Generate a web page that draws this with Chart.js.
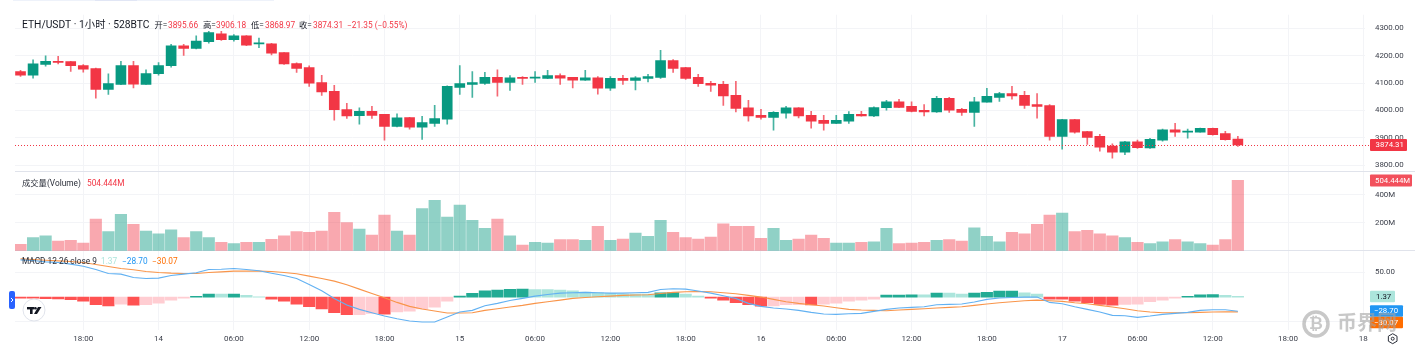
<!DOCTYPE html>
<html><head><meta charset="utf-8">
<style>html,body{margin:0;padding:0;background:#fff;overflow:hidden}canvas{display:block}</style>
<script src="https://cdn.jsdelivr.net/npm/chart.js@4/dist/chart.umd.js"></script>
</head><body>
<canvas id="c" width="1415" height="353"></canvas>
<script>
const openP=[4142,4129,4168,4179,4178,4164,4153,4077,4095,4164,
4095,4134,4163,4236,4226,4251,4279,4258,4272,4243,
4243,4211,4171,4156,4102,4070,4003,3981,3997,3986,
3942,3974,3939,3953,3968,4084,4095,4099,4121,4102,
4121,4118,4117,4127,4121,4111,4119,4081,4117,4110,
4117,4121,4182,4156,4121,4099,4095,4055,4010,3982,
3975,3990,4010,3982,3964,3953,3961,3986,3980,4010,
4032,4015,4001,3995,4044,4004,3993,4030,4048,4062,
4055,4022,4018,3906,3967,3923,3906,3870,3848,3886,
3864,3892,3930,3921,3921,3935,3916,3895.66];
const highP=[4146,4185,4199,4197,4179,4167,4155,4134,4179,4179,
4148,4175,4241,4241,4272,4289,4289,4277,4273,4264,
4245,4211,4174,4163,4128,4092,4026,4010,4015,3986,
3988,3975,3979,4019,4090,4164,4142,4139,4148,4127,
4124,4142,4146,4134,4121,4146,4124,4124,4128,4124,
4132,4219,4186,4157,4132,4106,4106,4106,4037,4004,
3996,4015,4011,3997,3982,3982,3996,3997,4013,4037,
4041,4032,4022,4052,4048,4008,4048,4081,4066,4088,
4070,4062,4022,3968,3968,3924,3913,3879,3888,3892,
3899,3932,3953,3932,3936,3936,3924,3906.18];
const lowP=[4124,4118,4162,4170,4142,4140,4045,4059,4094,4082,
4095,4129,4158,4201,4224,4245,4255,4253,4236,4229,
4203,4168,4139,4088,4055,3965,3971,3950,3971,3892,
3940,3932,3895,3942,3950,4059,4048,4095,4052,4073,
4095,4102,4116,4095,4082,4110,4060,4073,4095,4075,
4104,4117,4139,4113,4088,4070,4019,3995,3961,3968,
3928,3972,3973,3936,3928,3952,3953,3979,3978,4001,
4010,3995,3980,3993,3993,3982,3942,4030,4033,4041,
4008,3972,3892,3859,3917,3876,3852,3826,3839,3862,
3862,3888,3906,3899,3921,3910,3892,3868.97];
const closeP=[4129,4170,4179,4175,4163,4151,4077,4098,4164,4096,
4135,4164,4236,4226,4253,4284,4258,4272,4238,4245,
4209,4170,4153,4100,4068,4003,3980,3997,3982,3942,
3973,3939,3956,3971,4088,4098,4102,4121,4102,4119,
4117,4121,4127,4118,4111,4119,4081,4117,4110,4119,
4124,4182,4153,4117,4098,4092,4053,4008,3980,3975,
3993,4010,3980,3961,3953,3964,3986,3980,4011,4032,
4011,3997,3995,4044,4001,3993,4032,4052,4062,4053,
4019,4015,3906,3967,3921,3902,3866,3848,3886,3865,
3895,3930,3921,3924,3935,3912,3894,3874.31];
const volumeM=[45,93,107,69,74,55,226,136,260,188,
140,121,150,93,136,93,60,50,60,60,
81,107,136,131,140,274,202,155,112,255,
140,112,302,360,240,326,217,160,226,107,
40,60,55,79,79,74,174,74,83,126,
102,217,131,93,83,98,193,174,174,88,
160,74,83,112,88,55,55,60,64,160,
50,55,60,74,79,69,164,102,64,131,
121,188,255,269,136,145,121,107,93,60,
50,64,79,64,50,40,79,504.444];
const macdHist=[-2.0,-2.1,-3.4,-3.5,-5.4,-8.1,-15.5,-18.2,-14.2,-16.2,
-15.5,-12.2,-6.1,-2.0,1.4,6.3,5.9,6.2,3.4,0.7,
-4.1,-8.1,-14.2,-19.6,-24.3,-31.8,-35.8,-35.7,-33.1,-34.5,
-30.4,-28.4,-24.3,-20.3,-8.1,2.0,7.4,12.8,14.2,16.0,
16.2,15.5,15.4,14.2,12.8,10.1,8.8,7.4,6.2,6.1,
6.0,8.8,9.0,6.1,2.0,-2.0,-6.1,-11.5,-15.5,-18.3,
-18.2,-15.6,-15.5,-16.0,-14.2,-12.2,-8.1,-6.1,-4.1,4.0,
4.3,4.7,4.5,8.1,8.0,6.1,8.1,9.5,12.2,12.4,
8.8,6.1,-4.1,-4.3,-8.1,-11.5,-14.9,-16.2,-14.9,-14.2,
-9.5,-6.1,-2.0,1.4,4.7,4.9,3.4,1.37];
const macdLine=[75.7,74.3,71.6,70.3,66.9,62.8,56.0,48.0,46.6,39.9,
37.8,38.5,43.9,46.6,49.3,56.0,56.7,58.1,56.0,53.4,
48.6,43.9,37.8,25.7,12.8,-2.7,-16.2,-25.0,-31.8,-38.5,
-43.9,-48.6,-50.7,-50.7,-40.5,-30.4,-27.0,-17.6,-12.8,-6.8,
-2.7,2.0,5.4,8.1,8.8,9.5,8.8,8.1,8.1,8.8,
9.5,15.5,16.9,16.2,12.2,8.1,2.7,-2.7,-12.8,-18.9,
-22.3,-24.3,-27.0,-31.1,-34.5,-35.1,-33.8,-33.1,-29.1,-25.0,
-22.3,-20.9,-19.6,-15.5,-14.9,-14.2,-10.1,-4.7,-2.0,-0.7,
0,0,-10.8,-13.5,-19.6,-25.0,-30.4,-37.2,-37.8,-41.2,
-38.5,-35.1,-33.1,-31.1,-27.0,-25.7,-25.7,-28.70];
const signalLine=[77.7,76.4,75.0,73.6,72.3,70.3,66.2,62.1,58.1,55.4,
52.0,50.0,48.6,48.0,47.9,50.0,51.3,52.7,52.7,52.7,
52.0,50.0,47.3,42.6,37.8,32.4,25.0,16.2,7.4,-1.4,
-10.8,-18.9,-24.3,-28.4,-32.4,-32.4,-31.8,-27.0,-23.6,-20.3,
-16.9,-12.8,-9.5,-6.1,-2.7,-0.7,0.7,2.0,3.4,4.1,
4.7,7.4,9.5,10.8,11.5,10.8,8.8,6.8,3.4,0,
-4.7,-9.5,-12.8,-15.5,-18.2,-21.6,-25.0,-26.4,-27.0,-27.7,
-26.4,-25.0,-23.6,-22.3,-20.9,-19.6,-16.9,-14.2,-11.5,-9.5,
-7.4,-6.1,-7.4,-8.8,-11.5,-13.5,-16.9,-20.3,-23.6,-27.7,
-30.4,-31.8,-31.8,-31.8,-31.1,-30.4,-29.7,-30.07];

const xTickHours=[5,11,17,23,29,35,41,47,53,59,65,71,77,83,89,95,101,107];
const xTickLabels=['18:00','14','06:00','12:00','18:00','15','06:00','12:00','18:00','16','06:00','12:00','18:00','17','06:00','12:00','18:00','18'];
const priceTicks=[4300,4200,4100,4000,3900,3800];
const volumeTicks=[200,400];
const macdTicks=[50,-50];

const GREEN='#089981',RED='#F23645';
const FONT="Roboto, 'Noto Sans CJK SC', sans-serif";
const isUp=i=>closeP[i]>=openP[i];
const idx=closeP.map((_,i)=>i);

const panelPlugin={
 id:'panels',
 beforeDatasetsDraw(ch){
  const c=ch.ctx;c.save();
  c.strokeStyle='#E0E3EB';c.lineWidth=1;
  [171.5,250.5].forEach(y=>{c.beginPath();c.moveTo(15,y);c.lineTo(1415,y);c.stroke();});
  c.fillStyle='#EEF2FA';c.fillRect(13,0,261,1);
  c.fillStyle='#E1E6F5';c.fillRect(95,0,42,1);
  c.restore();
 },
 afterDraw(ch){
  const c=ch.ctx,s=ch.scales;c.save();
  c.textBaseline='middle';
  const last=closeP.length-1;
  const py=s.y.getPixelForValue(closeP[last]);
  c.strokeStyle=RED;c.lineWidth=1;c.setLineDash([1,2]);
  c.beginPath();c.moveTo(15,Math.round(py)+.5);c.lineTo(1370,Math.round(py)+.5);c.stroke();c.setLineDash([]);
  const tag=(x,yc,w,h,bg,fg,txt,tx)=>{c.fillStyle=bg;c.beginPath();c.roundRect(x,yc-h/2,w,h,1);c.fill();
    c.fillStyle=fg;c.font='7.8px '+FONT;c.textAlign='left';c.fillText(txt,tx,yc+.5);};
  tag(1370,py,37,12,RED,'#fff',closeP[last].toFixed(2),1375.5);
  tag(1370,180.5,42,12,'#F2505C','#fff',volumeM[last].toFixed(3)+'M',1375);
  tag(1370,296.5,25,11.5,'#ACE5DC','#131722',macdHist[last].toFixed(2),1376);
  tag(1370,311,33,11.5,'#2196F3','#fff','\u2212'+Math.abs(macdLine[last]).toFixed(2),1374);
  tag(1370,322.5,33,11.5,'#FF6D00','#fff','\u2212'+Math.abs(signalLine[last]).toFixed(2),1374);
  const txt=(t,x,y,col,f)=>{c.font=f;c.fillStyle=col;c.textAlign='left';c.fillText(t,x,y);};
  const f1='10.3px '+FONT,f2='8.3px '+FONT;
  txt('ETH/USDT \u00b7 1\u5c0f\u65f6 \u00b7 528BTC',22,25.5,'#131722',f1);
  const labs=[['\u5f00=',154.5,168,openP],['\u9ad8=',203,216,highP],['\u4f4e=',251,265,lowP],['\u6536=',299,313,closeP]];
  labs.forEach(l=>{txt(l[0],l[1],26,'#131722',f2);txt(l[3][last].toFixed(2),l[2],26,RED,f2);});
  txt('\u221221.35 (\u22120.55%)',347,26,RED,f2);
  txt('\u6210\u4ea4\u91cf(Volume)',22,184,'#2a2e39',f2);
  txt(volumeM[last].toFixed(3)+'M',87,184,RED,f2);
  txt('MACD 12 26 close 9',22,262,'#2a2e39',f2);
  txt(macdHist[last].toFixed(2),101,262,'#ACE5DC',f2);
  txt('\u2212'+Math.abs(macdLine[last]).toFixed(2),122,262,'#2196F3',f2);
  txt('\u2212'+Math.abs(signalLine[last]).toFixed(2),152,262,'#FF6D00',f2);
  // collapse handle
  c.fillStyle='#2962FF';c.beginPath();c.roundRect(9,291,6,18,2);c.fill();
  c.strokeStyle='#fff';c.lineWidth=1;c.beginPath();c.moveTo(11,298);c.lineTo(13,300);c.lineTo(11,302);c.stroke();
  // TV logo
  c.fillStyle='#fff';c.strokeStyle='#E0E3EB';c.beginPath();c.arc(34,310,11,0,Math.PI*2);c.fill();c.stroke();
  c.fillStyle='#131722';c.fillRect(27,307,7.5,2.4);c.fillRect(30,307,2.6,7);
  c.beginPath();c.arc(35.5,308.2,1.2,0,Math.PI*2);c.fill();
  c.beginPath();c.moveTo(38,307);c.lineTo(41.5,307);c.lineTo(37,314);c.lineTo(34,314);c.closePath();c.fill();
  // settings
  c.strokeStyle='#2a2e39';c.lineWidth=1;c.beginPath();
  for(let k=0;k<6;k++){const a=Math.PI/3*k+Math.PI/6,x=1392.7+5*Math.cos(a),y=338.7+5*Math.sin(a);k?c.lineTo(x,y):c.moveTo(x,y);}
  c.closePath();c.stroke();
  c.beginPath();c.arc(1392.7,338.7,1.5,0,Math.PI*2);c.stroke();
  // watermark
  c.globalAlpha=.6;c.strokeStyle='#a4a4a4';c.lineWidth=3.5;c.beginPath();c.arc(1316,324,12,0,Math.PI*2);c.stroke();
  c.fillStyle='#a4a4a4';c.font='bold 17px '+FONT;c.textAlign='center';c.fillText('\u20bf',1316,324.5);
  c.font='bold 20px '+FONT;c.textAlign='left';c.fillText('\u5e01\u754c\u7f51',1337,325);
  c.restore();
 }
};

const yBase={position:'right',stack:'panes',
  border:{display:false},grid:{color:'#F3F4F7',lineWidth:1,drawTicks:false},
  afterFit(b){b.width=50;}};
const tickStyle={padding:10,color:'#3a3e49',font:{family:FONT,size:7.9},autoSkip:false,maxRotation:0};

new Chart(document.getElementById('c'),{
 type:'bar',
 data:{datasets:[
  {type:'line',label:'MACD',yAxisID:'yM',order:1,data:idx.map(i=>({x:i,y:macdLine[i]})),borderColor:'#62B1F2',borderWidth:1.1,pointRadius:0},
  {type:'line',label:'Signal',yAxisID:'yM',order:1,data:idx.map(i=>({x:i,y:signalLine[i]})),borderColor:'#F9954A',borderWidth:1.1,pointRadius:0},
  {label:'Hist',yAxisID:'yM',order:3,grouped:false,barThickness:11.5,data:idx.map(i=>({x:i,y:macdHist[i]})),
   backgroundColor:idx.map(i=>{const v=macdHist[i],p=i?macdHist[i-1]:0;return v>=0?(v>p?'#22AB94':'#ACE5DC'):(v<p?'#FF5252':'#FFCDD2');})},
  {label:'Volume',yAxisID:'yV',order:3,grouped:false,barThickness:11.5,data:idx.map(i=>({x:i,y:volumeM[i]})),
   backgroundColor:idx.map(i=>isUp(i)?'rgba(8,153,129,.45)':'rgba(242,54,69,.43)')},
  {label:'Body',yAxisID:'y',order:1,grouped:false,barThickness:10,minBarLength:1,data:idx.map(i=>({x:i,y:[openP[i],closeP[i]]})),
   backgroundColor:idx.map(i=>isUp(i)?GREEN:RED)},
  {label:'Wick',yAxisID:'y',order:2,grouped:false,barThickness:1,data:idx.map(i=>({x:i,y:[lowP[i],highP[i]]})),
   backgroundColor:idx.map(i=>isUp(i)?'rgba(8,153,129,.75)':'rgba(242,54,69,.75)')}
 ]},
 options:{
  responsive:false,animation:false,events:[],devicePixelRatio:1,
  layout:{padding:{left:15,top:14,right:0,bottom:0}},
  plugins:{legend:{display:false},tooltip:{enabled:false},title:{display:false}},
  scales:{
   x:{type:'linear',position:'bottom',offset:false,min:-0.44,max:107.13,
    border:{display:false},grid:{color:'#F3F4F7',drawTicks:false,offset:false},
    afterBuildTicks(a){a.ticks=xTickHours.map(v=>({value:v}));},
    afterFit(b){b.height=23;},
    ticks:{padding:4,color:'#3a3e49',font:{family:FONT,size:8},autoSkip:false,maxRotation:0,
     callback:v=>xTickLabels[xTickHours.indexOf(v)]}},
   y:{...yBase,weight:1,stackWeight:157.5,min:3776.4,max:4349,
    afterBuildTicks(a){a.ticks=priceTicks.map(v=>({value:v}));},
    ticks:{...tickStyle,callback:v=>v.toFixed(2)}},
   yV:{...yBase,weight:2,stackWeight:79,min:0,max:564.3,
    afterBuildTicks(a){a.ticks=volumeTicks.map(v=>({value:v}));},
    ticks:{...tickStyle,callback:v=>v+'M'}},
   yM:{...yBase,weight:3,stackWeight:79.5,min:-66.9,max:94.3,
    afterBuildTicks(a){a.ticks=macdTicks.map(v=>({value:v}));},
    ticks:{...tickStyle,callback:v=>v>0?v.toFixed(2):''}}
  }
 },
 plugins:[panelPlugin]
});
</script>
</body></html>
